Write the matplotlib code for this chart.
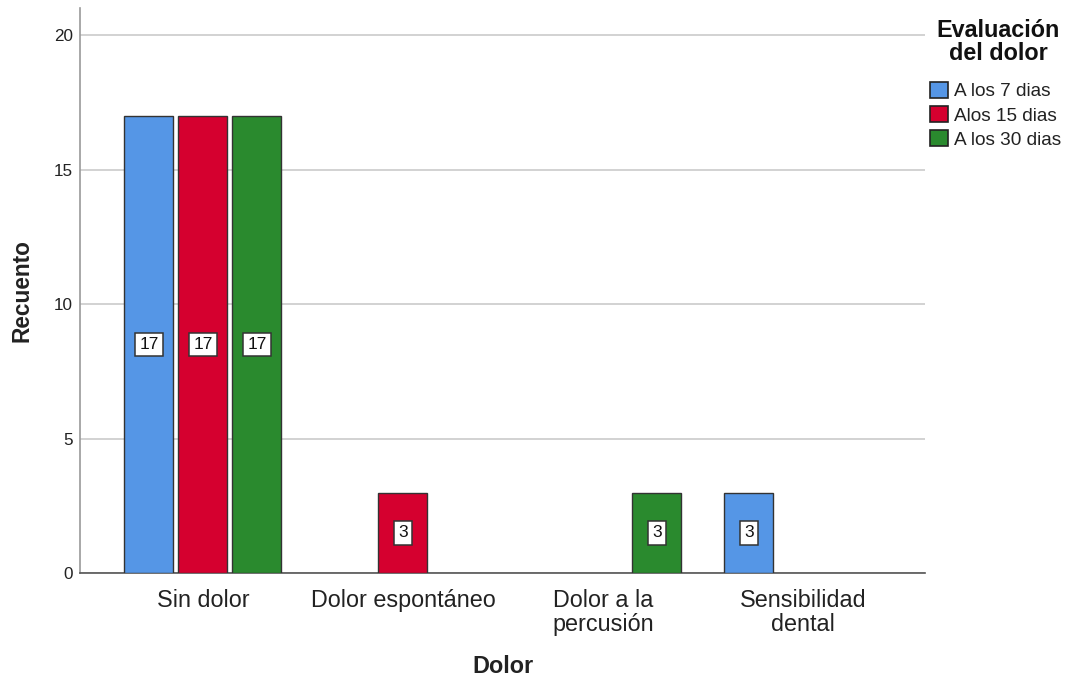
import matplotlib
matplotlib.use("Agg")
import matplotlib.pyplot as plt
from matplotlib.patches import Patch
import numpy as np

categories = ["Sin dolor", "Dolor espontáneo", "Dolor a la\npercusión", "Sensibilidad\ndental"]
series_names = ["A los 7 dias", "Alos 15 dias", "A los 30 dias"]
values_7 = [17, 0, 0, 3]
values_15 = [17, 3, 0, 0]
values_30 = [17, 0, 3, 0]
colors = ["#5596E6", "#D5002F", "#2A8A2E"]

plt.rcParams["font.family"] = ["Liberation Sans", "DejaVu Sans"]

fig = plt.figure(figsize=(10.69, 6.80), dpi=100)
ax = fig.add_axes([0.0748, 0.157, 0.7905, 0.831])

x = np.arange(len(categories))
width = 0.245
offsets = [-0.27, 0.0, 0.27]
all_values = [values_7, values_15, values_30]

for vals, off, col in zip(all_values, offsets, colors):
    for xi, v in zip(x, vals):
        if v <= 0:
            continue
        ax.bar(xi + off, v, width=width, color=col, edgecolor="#333333",
               linewidth=1.0, zorder=3)
        ax.text(xi + off, v / 2, str(v), ha="center", va="center",
                fontsize=12.5, color="#111111", zorder=4,
                bbox=dict(boxstyle="square,pad=0.24", facecolor="white",
                          edgecolor="#333333", linewidth=1.1))

ax.set_xlim(-0.615, 3.61)
ax.set_ylim(0, 21)
ax.set_yticks([0, 5, 10, 15, 20])
ax.yaxis.grid(True, color="#CFCFCF", linewidth=1.3, zorder=0)
ax.set_axisbelow(True)

ax.set_xticks(x)
ax.set_xticklabels(categories, fontsize=16.8, color="#222222", linespacing=1.08)
ax.tick_params(axis="x", length=0, pad=11)
ax.tick_params(axis="y", length=0, pad=5, labelsize=12.3, labelcolor="#222222")

for s in ["top", "right"]:
    ax.spines[s].set_visible(False)
ax.spines["left"].set_color("#9A9A9A")
ax.spines["left"].set_linewidth(1.2)
ax.spines["bottom"].set_color("#555555")
ax.spines["bottom"].set_linewidth(1.2)

ax.set_xlabel("Dolor", fontsize=16.8, fontweight="bold", color="#222222",
              va="center")
ax.xaxis.set_label_coords(0.5, -0.1646)
ax.set_ylabel("Recuento", fontsize=16.3, fontweight="bold", color="#222222",
              va="center", ha="center")
ax.yaxis.set_label_coords(-0.0686, 0.501)

# Legend title drawn as its own text block, entries as a legend below it
fig.text(0.9335, 1 - 42 / 680, "Evaluación\ndel dolor", ha="center", va="center",
         fontsize=16.8, fontweight="bold", color="#111111", linespacing=1.02)
handles = [Patch(facecolor=c, edgecolor="#222222", linewidth=1.2) for c in colors]
leg = fig.legend(handles, series_names, loc="upper left",
                 bbox_to_anchor=(0.870, 1 - 82 / 680), frameon=False,
                 fontsize=13.7, handlelength=0.95, handleheight=0.9,
                 handletextpad=0.3, labelspacing=0.30, borderaxespad=0.0,
                 borderpad=0.0)
for t in leg.get_texts():
    t.set_color("#222222")

fig.savefig("out.png", dpi=100)
